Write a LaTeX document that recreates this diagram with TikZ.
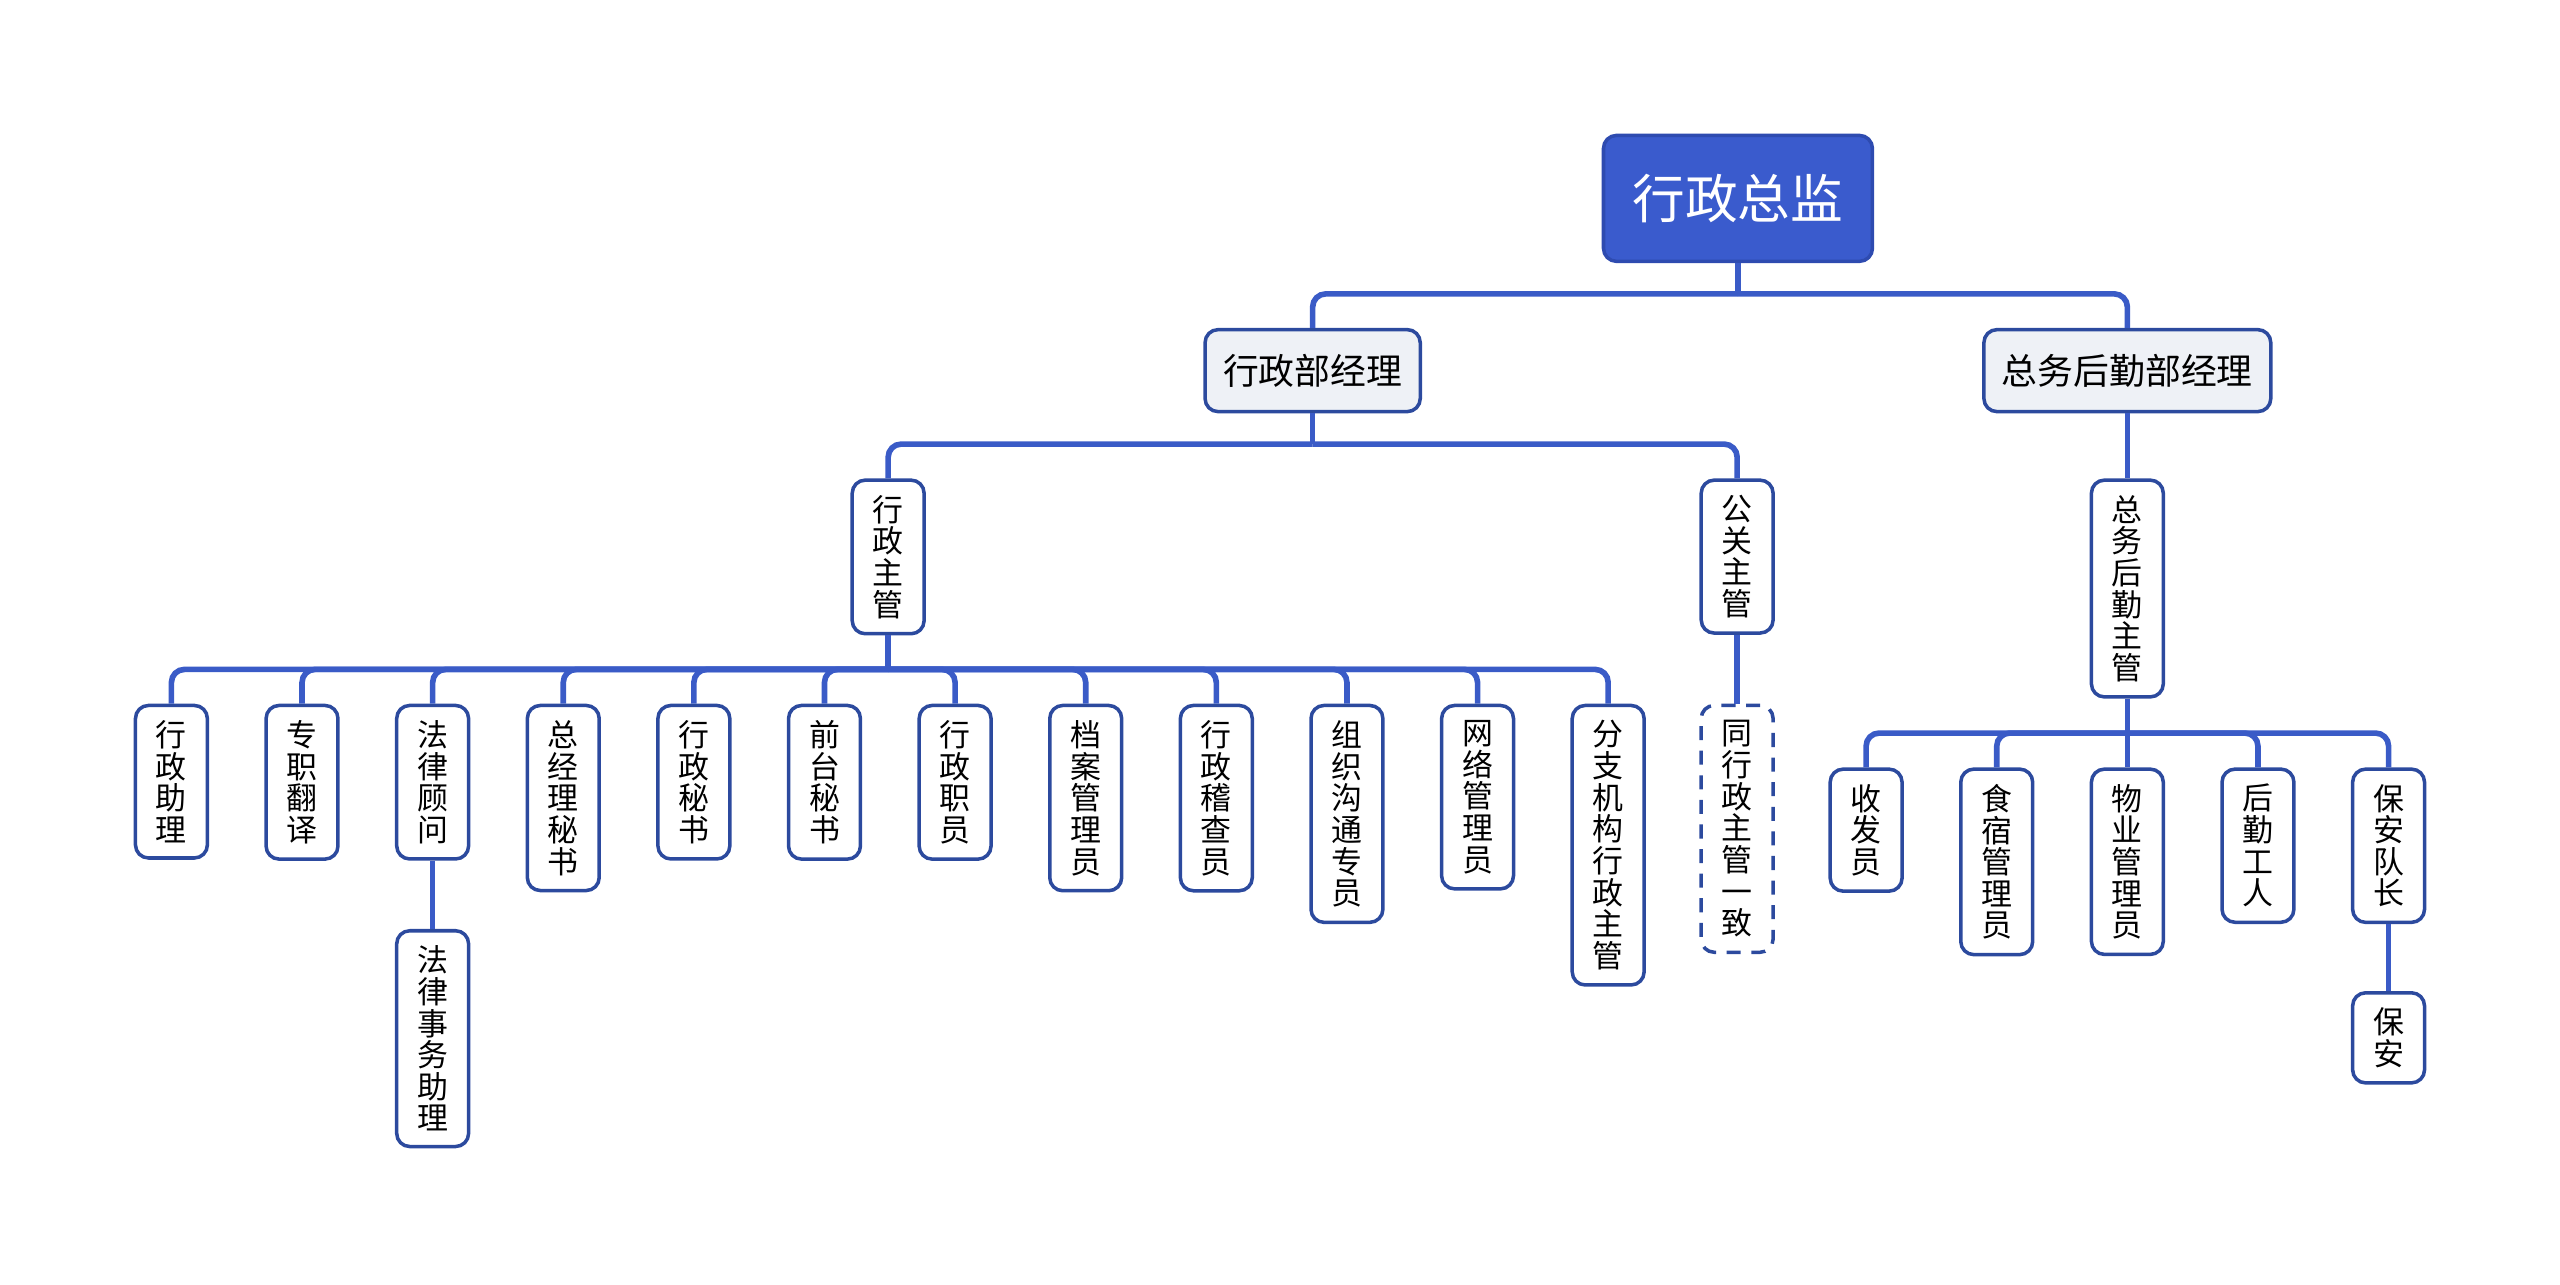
\documentclass[tikz,border=0pt]{standalone}
\usepackage{fontspec}
\setmainfont{Noto Sans CJK SC}
\usetikzlibrary{positioning}
\definecolor{chief}{HTML}{3A5BCD}
\definecolor{chiefline}{HTML}{2E4BB0}
\definecolor{frame}{HTML}{2C4A9E}
\definecolor{wire}{HTML}{3A5BC7}
\definecolor{pale}{HTML}{EEF1F6}
\tikzset{
  headbox/.style={rectangle,rounded corners=3.7pt,draw=chiefline,line width=1pt,fill=chief,text=white,
    minimum width=26.9mm,minimum height=12.6mm,font=\fontsize{15}{18}\selectfont},
  mgrbox/.style={rectangle,rounded corners=3.7pt,draw=frame,line width=1pt,fill=pale,
    inner xsep=1.8mm,minimum height=8.2mm,font=\fontsize{10.2}{12}\selectfont},
  postbox/.style={rectangle,rounded corners=3.7pt,draw=frame,line width=1pt,fill=white,align=center,
    minimum width=7.19mm,inner xsep=0pt,inner ysep=4.3pt,anchor=north,font=\fontsize{8.8}{9}\selectfont},
  notebox/.style={postbox,dashed,dash pattern=on 4pt off 3pt},
  link/.style={wire,line width=1.6pt,rounded corners=1.3mm}
}
\begin{document}
\begin{tikzpicture}[x=0.1633mm,y=-0.1633mm]
  \useasboundingbox (0,0) rectangle (1568,787);
  % top levels
  \node[headbox] (top) at (1064.5,121.5) {行政总监};
  \node[mgrbox] (m1) at (804,227) {行政部经理};
  \node[mgrbox] (m2) at (1303,227) {总务后勤部经理};
  \coordinate (tb) at (1064.5,180);
  \draw[link] (top.south) -- (tb);
  \draw[link] (tb) -| (m1.north);
  \draw[link] (tb) -| (m2.north);
  % supervisors
  \node[postbox] (s1) at (544,293) {行\\政\\主\\管};
  \node[postbox] (s2) at (1064,293) {公\\关\\主\\管};
  \node[postbox] (s3) at (1303,293) {总\\务\\后\\勤\\主\\管};
  \coordinate (ab) at (804,272);
  \draw[link] (m1.south) -- (ab);
  \draw[link] (ab) -| (s1.north);
  \draw[link] (ab) -| (s2.north);
  \draw[link] (m2.south) -- (s3.north);
  % staff under s1
  \coordinate (sb) at (544,410);
  \draw[link] (s1.south) -- (sb);
  \foreach \t [count=\i] in {行\\政\\助\\理,专\\职\\翻\\译,法\\律\\顾\\问,总\\经\\理\\秘\\书,
      行\\政\\秘\\书,前\\台\\秘\\书,行\\政\\职\\员,档\\案\\管\\理\\员,行\\政\\稽\\查\\员,
      组\\织\\沟\\通\\专\\员,网\\络\\管\\理\\员,分\\支\\机\\构\\行\\政\\主\\管}{
    \node[postbox] (a\i) at ({25+80*\i},431) {\t};
    \draw[link] (sb) -| (a\i.north);
  }
  \node[postbox] (law) at (265,569) {法\\律\\事\\务\\助\\理};
  \draw[link] (a3.south) -- (law.north);
  % note under s2
  \node[notebox] (same) at (1064,431) {同\\行\\政\\主\\管\\一\\致};
  \draw[link] (s2.south) -- (same.north);
  % staff under s3
  \coordinate (gb) at (1303,449);
  \draw[link] (s3.south) -- (gb);
  \foreach \t [count=\i] in {收\\发\\员,食\\宿\\管\\理\\员,物\\业\\管\\理\\员,后\\勤\\工\\人,保\\安\\队\\长}{
    \node[postbox] (g\i) at ({1063+80*\i},470) {\t};
    \draw[link] (gb) -| (g\i.north);
  }
  \node[postbox] (guard) at (1463,607) {保\\安};
  \draw[link] (g5.south) -- (guard.north);
\end{tikzpicture}
\end{document}
